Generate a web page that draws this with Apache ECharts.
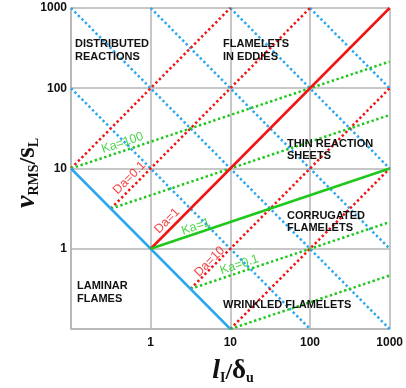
<!DOCTYPE html>
<html>
<head>
<meta charset="utf-8">
<script src="https://cdn.jsdelivr.net/npm/echarts@6/dist/echarts.min.js"></script>
<style>
html,body{margin:0;padding:0;background:#fff;}
#chart{width:406px;height:388px;}
</style>
</head>
<body>
<div id="chart"></div>
<script>
// axis range and tick labels
var axisMin = 0.1;
var axisMax = 1000;
var tickLabels = ['1', '10', '100', '1000'];

// Re lines (blue), slope -1 : [start, end]
var reSolid = [[0.1, 10], [10, 0.1]];
var reDotted = [
	[[0.1, 100], [100, 0.1]],
	[[0.1, 1000], [1000, 0.1]],
	[[1, 1000], [1000, 1]],
	[[10, 1000], [1000, 10]],
	[[100, 1000], [1000, 100]]
];
// Da lines (red), slope 1
var daSolid = [[1, 1], [1000, 1000]];
var daDotted = [
	[[0.1, 10], [10, 1000]],
	[[0.316, 3.16], [100, 1000]],
	[[3.16, 0.316], [1000, 100]],
	[[10, 0.1], [1000, 10]]
];
// Ka lines (green), slope 1/3
var kaSolid = [[1, 1], [1000, 10]];
var kaDotted = [
	[[0.1, 10], [1000, 215]],
	[[0.316, 3.16], [1000, 46.4]],
	[[3.16, 0.316], [1000, 2.15]],
	[[10, 0.1], [1000, 0.464]]
];
// labels along the lines
var daLabelText = ['Da=0.1', 'Da=1', 'Da=10'];
var daLabelPos = [[0.542, 7.64], [1.61, 2.23], [5.5, 0.689]];
var kaLabelText = ['Ka=100', 'Ka=1', 'Ka=0.1'];
var kaLabelPos = [[0.443, 20.8], [3.69, 1.88], [13.0, 0.632]];
// regime names
var regimeText = ['DISTRIBUTED\nREACTIONS', 'FLAMELETS\nIN EDDIES', 'THIN REACTION\nSHEETS',
	'CORRUGATED\nFLAMELETS', 'LAMINAR\nFLAMES', 'WRINKLED FLAMELETS'];

var BLUE = '#2aa7f0', RED = '#f01414', GREEN = '#1ec81a', GRID = '#b5b5b5';
var regimePx = [[75, 38], [223, 38], [287, 137.5], [287, 209.5], [77, 280], [223, 298.5]];

var fnTickFormat = function(v) {
	if (v < 0.5) return '';
	var s = String(Math.round(v));
	return tickLabels.indexOf(s) >= 0 ? s : '';
};

var fnLineSeries = function(pts, color, dotted, z) {
	return {
		type: 'line',
		data: pts,
		symbol: 'none',
		silent: true,
		z: z,
		lineStyle: {color: color, width: 2.5, type: dotted ? [2.4, 2.6] : 'solid', cap: 'butt'}
	};
};

var series = [];
reDotted.forEach(function(p) { series.push(fnLineSeries(p, BLUE, true, 2)); });
daDotted.forEach(function(p) { series.push(fnLineSeries(p, RED, true, 2)); });
kaDotted.forEach(function(p) { series.push(fnLineSeries(p, GREEN, true, 2)); });
series.push(fnLineSeries(reSolid, BLUE, false, 3));
series.push(fnLineSeries(daSolid, RED, false, 3));
series.push(fnLineSeries(kaSolid, GREEN, false, 3));

var fnLabelSeries = function(pos, text, color, rot) {
	return {
		type: 'scatter',
		symbolSize: 0,
		silent: true,
		z: 5,
		data: pos.map(function(p, i) { return {value: p, name: text[i]}; }),
		label: {
			show: true, position: 'inside', rotate: rot,
			formatter: '{b}', color: color, fontSize: 12.5,
			fontFamily: 'Liberation Sans'
		}
	};
};
series.push(fnLabelSeries(daLabelPos, daLabelText, RED, 45));
series.push(fnLabelSeries(kaLabelPos, kaLabelText, GREEN, 18.4));

var fnAxis = function(margin) {
	return {
		type: 'log', logBase: 10, min: axisMin, max: axisMax,
		axisTick: {show: false},
		axisLine: {show: true, lineStyle: {color: GRID, width: 1.5}},
		splitLine: {show: true, lineStyle: {color: GRID, width: 1.5}},
		axisLabel: {formatter: fnTickFormat, margin: margin, color: '#111', fontWeight: 'bold', fontSize: 12, fontFamily: 'Liberation Sans'}
	};
};

var graphics = regimeText.map(function(t, i) {
	return {
		type: 'text', left: regimePx[i][0], top: regimePx[i][1], z: 10,
		style: {text: t, fill: '#111', font: 'bold 11px "Liberation Sans"', lineHeight: 12.5}
	};
});
var titleRich = {
	m: {fontFamily: 'Liberation Serif', fontWeight: 'bold', fontStyle: 'italic', fontSize: 28, lineHeight: 30, verticalAlign: 'bottom'},
	d: {fontFamily: 'Liberation Serif', fontWeight: 'bold', fontSize: 27, lineHeight: 30, verticalAlign: 'bottom'},
	s: {fontFamily: 'Liberation Serif', fontWeight: 'bold', fontSize: 14, lineHeight: 14, verticalAlign: 'bottom'},
	n: {fontFamily: 'Liberation Serif', fontWeight: 'bold', fontSize: 24, lineHeight: 30, verticalAlign: 'bottom'}
};
graphics.push({
	type: 'text', x: 26, y: 173, rotation: Math.PI / 2, z: 10,
	style: {text: '{m|v}{s|RMS}{n|/}{d|s}{s|L}', rich: titleRich, fill: '#111', align: 'center', verticalAlign: 'middle'}
});
graphics.push({
	type: 'text', x: 233, y: 370, z: 10,
	style: {text: '{m|l}{s|I}{n|/}{d|δ}{s|u}', rich: titleRich, fill: '#111', align: 'center', verticalAlign: 'middle'}
});

var chart = echarts.init(document.getElementById('chart'));
chart.setOption({
	animation: false,
	grid: {left: 71, right: 13, top: 8, bottom: 59},
	xAxis: fnAxis(8),
	yAxis: fnAxis(4),
	series: series,
	graphic: graphics
});
</script>
</body>
</html>
